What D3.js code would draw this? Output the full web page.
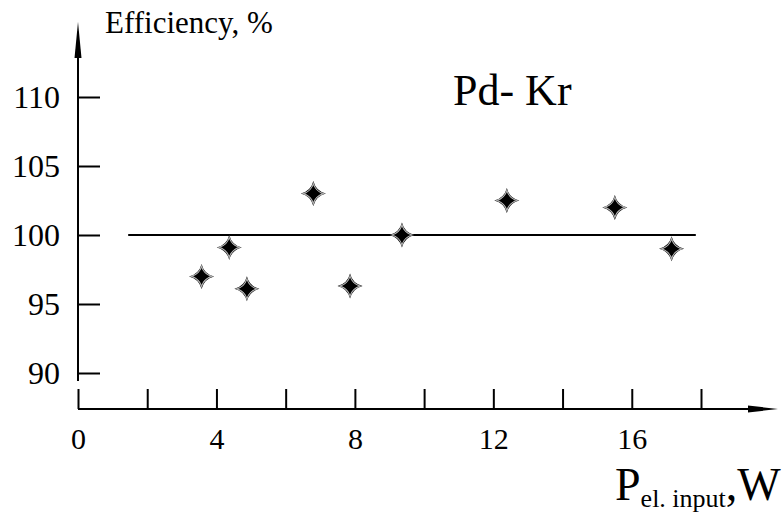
<!DOCTYPE html>
<html>
<head>
<meta charset="utf-8">
<script src="https://cdn.jsdelivr.net/npm/d3@7"></script>
</head>
<body style="margin:0">
<div id="container"></div>
<script>
const w = 784;
const h = 519;
const serif = "'Liberation Serif'";

// data
let power = [3.57, 4.37, 4.88, 6.80, 7.86, 9.36, 12.39, 15.51, 17.15];
let efficiency = [97.0, 99.1, 96.1, 103.0, 96.3, 100.0, 102.5, 102.0, 99.0];
let refLineX = [1.45, 17.85];
let refLineY = [100, 100];
let xTicks = [0, 2, 4, 6, 8, 10, 12, 14, 16, 18];
let xLabels = [0, 4, 8, 12, 16];
let yTicks = [90, 95, 100, 105, 110];

let xScale = d3.scaleLinear().domain([0, 18]).range([78, 701]);
let yScale = d3.scaleLinear().domain([90, 110]).range([373, 97]);

let viz = d3.select("#container").append("svg").attr("width", w).attr("height", h);

// axes lines with arrows
let axisY0 = 409;
viz.append("line")
    .attr("x1", xScale(0)).attr("x2", 752)
    .attr("y1", axisY0).attr("y2", axisY0)
    .attr("stroke", "black").attr("stroke-width", 2);
viz.append("path")
    .attr("d", "M748," + (axisY0 - 3.5) + "L778," + axisY0 + "L748," + (axisY0 + 3.5) + "Z")
    .attr("fill", "black");

viz.append("line")
    .attr("x1", xScale(0)).attr("x2", xScale(0))
    .attr("y1", 381).attr("y2", 55)
    .attr("stroke", "black").attr("stroke-width", 2);
viz.append("path")
    .attr("d", "M" + (xScale(0) - 3.5) + ",58L" + xScale(0) + ",22L" + (xScale(0) + 3.5) + ",58Z")
    .attr("fill", "black");

// x axis ticks (pointing up)
let xAxis = d3.axisBottom(xScale)
    .tickValues(xTicks)
    .tickSizeInner(-20)
    .tickSizeOuter(0)
    .tickPadding(19)
    .tickFormat(function(d){ return xLabels.includes(d) ? d : ""; });
let xAxisGroup = viz.append("g").attr("transform", "translate(0," + axisY0 + ")").call(xAxis);
xAxisGroup.select(".domain").remove();
xAxisGroup.selectAll(".tick line").attr("stroke", "black").attr("stroke-width", 2);
xAxisGroup.selectAll(".tick text").style("font-family", serif).style("font-size", "30px");

// y axis ticks (pointing right)
let yAxis = d3.axisLeft(yScale)
    .tickValues(yTicks)
    .tickSizeInner(-22)
    .tickSizeOuter(0)
    .tickPadding(18);
let yAxisGroup = viz.append("g").attr("transform", "translate(" + xScale(0) + ",0)").call(yAxis);
yAxisGroup.select(".domain").remove();
yAxisGroup.selectAll(".tick line").attr("stroke", "black").attr("stroke-width", 2);
yAxisGroup.selectAll(".tick text").style("font-family", serif).style("font-size", "32px");

// reference line at 100 %
viz.append("line")
    .attr("x1", xScale(refLineX[0])).attr("x2", xScale(refLineX[1]))
    .attr("y1", yScale(refLineY[0])).attr("y2", yScale(refLineY[1]))
    .attr("stroke", "black").attr("stroke-width", 2);

// four-pointed star markers
function star(R, a){
    return "M0," + (-R) + "Q" + a + "," + (-a) + " " + R + ",0" +
           "Q" + a + "," + a + " 0," + R +
           "Q" + (-a) + "," + a + " " + (-R) + ",0" +
           "Q" + (-a) + "," + (-a) + " 0," + (-R) + "Z";
}
let points = power.map(function(p, i){ return { x: p, y: efficiency[i] }; });
let marks = viz.selectAll(".dataPoints").data(points).enter()
    .append("g")
    .attr("class", "dataPoints")
    .attr("transform", function(d){ return "translate(" + xScale(d.x) + "," + yScale(d.y) + ")"; });
marks.append("path").attr("d", star(12.5, 2.5)).attr("fill", "black");
marks.append("path").attr("d", star(10, 2.2)).attr("fill", "none").attr("stroke", "#b0b0b0").attr("stroke-width", 1.2);
marks.append("path").attr("d", star(7.5, 2.5)).attr("fill", "black");

// texts
viz.append("text").attr("x", 105).attr("y", 33)
    .style("font-family", serif).style("font-size", "31px").text("Efficiency, %");
viz.append("text").attr("x", 453).attr("y", 105)
    .style("font-family", serif).style("font-size", "44px").text("Pd- Kr");

let xl = viz.append("text").attr("x", 615).attr("y", 500)
    .style("font-family", serif).style("font-size", "46px");
xl.append("tspan").text("P");
xl.append("tspan").attr("dy", 7).style("font-size", "26px").text("el. input");
xl.append("tspan").attr("dy", -7).text(",W");
</script>
</body>
</html>
